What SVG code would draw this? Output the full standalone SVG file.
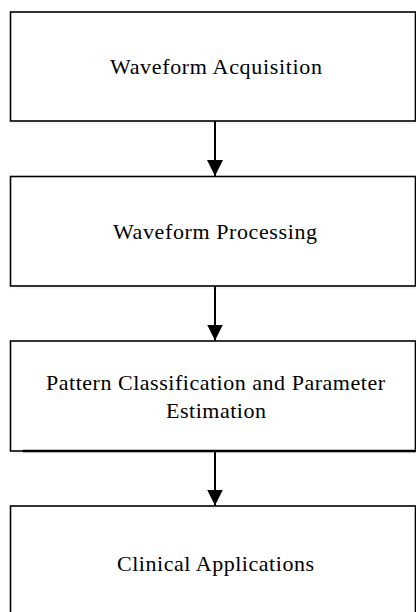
<svg xmlns="http://www.w3.org/2000/svg" width="416" height="612" viewBox="0 0 416 612">
<style>
.box{fill:#ffffff;stroke:#000000;stroke-width:1.6}
.shadow{fill:#e9f0f9;opacity:0.6}
.lbl{font-family:'Liberation Serif','DejaVu Serif',serif;font-size:22px;fill:#000000;text-anchor:middle}
.conn{stroke:#000000;stroke-width:2;fill:none}
</style>
<defs>
<marker id="arr" markerUnits="userSpaceOnUse" markerWidth="16" markerHeight="17" refX="16" refY="8" orient="auto" viewBox="0 0 16 16">
<path d="M0,0 L16,8 L0,16 Z" fill="#000000"/>
</marker>
</defs>
<rect width="416" height="612" fill="#ffffff"/>
<g id="node1">
<rect class="shadow" x="13" y="15" width="405" height="109"/>
<rect class="box" x="10.5" y="12" width="405" height="109"/>
<text class="lbl" x="216" y="74" textLength="212" lengthAdjust="spacing">Waveform Acquisition</text>
</g>
<g id="node2">
<rect class="shadow" x="13" y="179.5" width="405" height="109.5"/>
<rect class="box" x="10.5" y="176.5" width="405" height="109.5"/>
<text class="lbl" x="215" y="238.5" textLength="204" lengthAdjust="spacing">Waveform Processing</text>
</g>
<g id="node3">
<rect class="shadow" x="13" y="344" width="405" height="110"/>
<rect class="box" x="10.5" y="341" width="405" height="110"/>
<line x1="23" y1="451" x2="416" y2="451" stroke="#000000" stroke-width="2.6"/>
<text class="lbl" x="215.5" y="390" textLength="339" lengthAdjust="spacing">Pattern Classification and Parameter</text>
<text class="lbl" x="216" y="418" textLength="100" lengthAdjust="spacing">Estimation</text>
</g>
<g id="node4">
<rect class="shadow" x="13" y="509" width="405" height="120"/>
<rect class="box" x="10.5" y="506" width="405" height="120"/>
<text class="lbl" x="215.5" y="571" textLength="197" lengthAdjust="spacing">Clinical Applications</text>
</g>
<g id="connectors">
<line class="conn" x1="215" y1="121" x2="215" y2="176" marker-end="url(#arr)"/>
<line class="conn" x1="215" y1="286" x2="215" y2="340.5" marker-end="url(#arr)"/>
<line class="conn" x1="215" y1="452" x2="215" y2="505.5" marker-end="url(#arr)"/>
</g>
</svg>
